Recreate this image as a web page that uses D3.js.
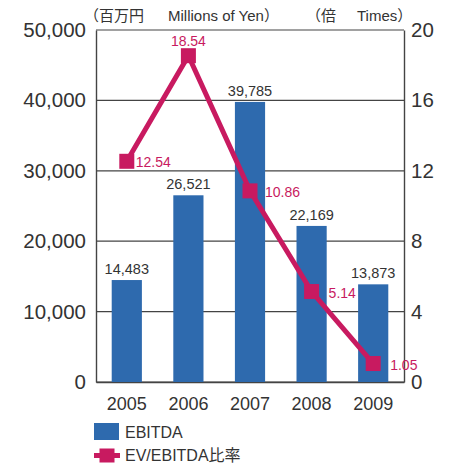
<!DOCTYPE html>
<html>
<head>
<meta charset="utf-8">
<script src="https://cdn.jsdelivr.net/npm/d3@7"></script>
<style>
  body { margin: 0; background: #fff; }
  svg text { font-family: "Liberation Sans", Arial, "Noto Sans CJK JP", sans-serif; }
</style>
</head>
<body>
<div id="chart"></div>
<script>
const years = ["2005", "2006", "2007", "2008", "2009"];
const ebitda = [14483, 26521, 39785, 22169, 13873];
const ratio = [12.54, 18.54, 10.86, 5.14, 1.05];
const leftTicks = [0, 10000, 20000, 30000, 40000, 50000];
const rightTicks = [0, 4, 8, 12, 16, 20];

const barColor = "#2e6aae";
const lineColor = "#c81a60";
const textColor = "#333";

const margin = { top: 30, right: 50, bottom: 86, left: 96 };
const width = 454 - margin.left - margin.right,
  height = 468 - margin.top - margin.bottom;

const svg = d3
  .select("#chart")
  .append("svg")
  .attr("width", 454)
  .attr("height", 468);

const g = svg
  .append("g")
  .attr("transform", "translate(" + margin.left + "," + margin.top + ")");

// Scales
const x = d3.scaleBand().domain(years).range([0, width]).paddingInner(0.51).paddingOuter(0.255);
const yLeft = d3.scaleLinear().domain([0, 50000]).range([height, 0]);
const yRight = d3.scaleLinear().domain([0, 20]).range([height, 0]);

// Gridlines
g.selectAll("line.grid")
  .data(leftTicks)
  .enter()
  .append("line")
  .attr("class", "grid")
  .attr("x1", 0)
  .attr("x2", width)
  .attr("y1", d => yLeft(d))
  .attr("y2", d => yLeft(d))
  .attr("stroke", "#444")
  .attr("stroke-width", 1.2);

// Axes
const leftAxis = g
  .append("g")
  .call(d3.axisLeft(yLeft).tickValues(leftTicks).tickFormat(d3.format(",")).tickSize(0).tickPadding(10));
const rightAxis = g
  .append("g")
  .attr("transform", "translate(" + width + ",0)")
  .call(d3.axisRight(yRight).tickValues(rightTicks).tickSize(0).tickPadding(7));
const xAxis = g
  .append("g")
  .attr("transform", "translate(0," + height + ")")
  .call(d3.axisBottom(x).tickSize(0).tickPadding(15));

[leftAxis, rightAxis, xAxis].forEach(a => {
  a.select(".domain").attr("stroke", "#444").attr("stroke-width", 1.4);
  a.selectAll("text").attr("fill", textColor).attr("font-family", null);
});
leftAxis.selectAll("text").attr("font-size", "20.5px");
rightAxis.selectAll("text").attr("font-size", "20.5px");
xAxis.selectAll("text").attr("font-size", "18px");

// Bars
g.selectAll("rect.bar")
  .data(ebitda)
  .enter()
  .append("rect")
  .attr("class", "bar")
  .attr("x", (d, i) => x(years[i]))
  .attr("y", d => yLeft(d))
  .attr("width", x.bandwidth())
  .attr("height", d => height - yLeft(d))
  .attr("fill", barColor);

g.selectAll("text.barlabel")
  .data(ebitda)
  .enter()
  .append("text")
  .attr("class", "barlabel")
  .attr("x", (d, i) => x(years[i]) + x.bandwidth() / 2)
  .attr("y", d => yLeft(d) - 6)
  .attr("text-anchor", "middle")
  .attr("font-size", "14.5px")
  .attr("fill", textColor)
  .text(d => d3.format(",")(d));

// Line
const cx = (d, i) => x(years[i]) + x.bandwidth() / 2;
const line = d3.line().x(cx).y(d => yRight(d));

g.append("path")
  .datum(ratio)
  .attr("d", line)
  .attr("fill", "none")
  .attr("stroke", lineColor)
  .attr("stroke-width", 5);

g.selectAll("rect.marker")
  .data(ratio)
  .enter()
  .append("rect")
  .attr("class", "marker")
  .attr("x", (d, i) => cx(d, i) - 7.5)
  .attr("y", d => yRight(d) - 7.5)
  .attr("width", 15)
  .attr("height", 15)
  .attr("fill", lineColor);

// label offset from the marker centre (the 2006 one sits above)
const labelDx = [9, 0, 15, 17, 17];
g.selectAll("text.ratiolabel")
  .data(ratio)
  .enter()
  .append("text")
  .attr("class", "ratiolabel")
  .attr("x", (d, i) => cx(d, i) + labelDx[i])
  .attr("y", (d, i) => (i === 1 ? yRight(d) - 10 : yRight(d) + 6))
  .attr("text-anchor", (d, i) => (i === 1 ? "middle" : "start"))
  .attr("font-size", "14px")
  .attr("fill", lineColor)
  .text(d => d3.format(".2f")(d));

// Unit labels
const unitText = [
  { x: 84, t: "（百万円" },
  { x: 168, t: "Millions of Yen）" },
  { x: 306, t: "（倍" },
  { x: 357, t: "Times）" }
];
svg.selectAll("text.unit")
  .data(unitText)
  .enter()
  .append("text")
  .attr("class", "unit")
  .attr("x", d => d.x)
  .attr("y", 21)
  .attr("font-size", "15px")
  .attr("fill", textColor)
  .text(d => d.t);

// Legend
const legend = svg.append("g").attr("transform", "translate(94,423)");
legend.append("rect")
  .attr("width", 25)
  .attr("height", 17)
  .attr("fill", barColor);
legend.append("text")
  .attr("x", 31)
  .attr("y", 15)
  .attr("font-size", "16px")
  .attr("fill", textColor)
  .text("EBITDA");

legend.append("line")
  .attr("x1", 0)
  .attr("x2", 26)
  .attr("y1", 32.5)
  .attr("y2", 32.5)
  .attr("stroke", lineColor)
  .attr("stroke-width", 5);
legend.append("rect")
  .attr("x", 5.5)
  .attr("y", 25.5)
  .attr("width", 15)
  .attr("height", 14)
  .attr("fill", lineColor);
legend.append("text")
  .attr("x", 31)
  .attr("y", 38)
  .attr("font-size", "16px")
  .attr("fill", textColor)
  .text("EV/EBITDA比率");
</script>
</body>
</html>
